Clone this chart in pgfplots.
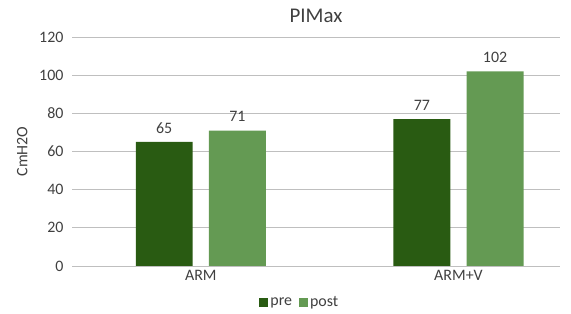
\documentclass[border=0pt]{standalone}
\usepackage{pgfplots}
\pgfplotsset{compat=1.18}
\usepackage{fontspec}
\setmainfont{Carlito}
\definecolor{pre}{HTML}{295B12}
\definecolor{post}{HTML}{649A53}
\definecolor{txt}{HTML}{404040}
\definecolor{grid}{HTML}{D9D9D9}
\begin{document}
\begin{tikzpicture}
\useasboundingbox (0,0) rectangle (571bp,314bp);
\begin{axis}[
  at={(72bp,48bp)}, anchor=south west,
  scale only axis, width=488bp, height=229bp,
  ybar,
  xmin=-0.5, xmax=1.394, ymin=0, ymax=120,
  xtick={0,1}, xticklabels={ARM,ARM+V},
  ytick={0,20,...,120},
  xmajorgrids=false, ymajorgrids, grid style={grid, line width=0.8pt},
  separate axis lines,
  axis line style={draw=none},
  major tick length=0pt,
  tick label style={font=\fontsize{16}{18}\selectfont, text=txt},
  /pgf/number format/assume math mode=true,
  yticklabel style={xshift=-5bp},
  xticklabel style={yshift=-1bp},
  ylabel={CmH2O}, ylabel style={font=\fontsize{16}{18}\selectfont, text=txt, yshift=5bp},
  title={PIMax}, title style={font=\fontsize{21}{23}\selectfont, text=txt, yshift=5bp},
  bar width=0.221,
  nodes near coords, nodes near coords style={font=\fontsize{16}{18}\selectfont, text=txt, yshift=5bp},
  legend style={at={(0.467,-0.115)}, anchor=north, draw=none, legend columns=2, font=\fontsize{16}{18}\selectfont, text=txt, /tikz/every even column/.append style={column sep=5bp}},
  legend image code/.code={\fill[#1] (0bp,-4.5bp) rectangle (9bp,4.5bp);},
]
\addplot[fill=pre, draw=none, bar shift=-0.142] coordinates {(0,65) (1,77)};
\addlegendentry{pre}
\addplot[fill=post, draw=none, bar shift=0.142] coordinates {(0,71) (1,102)};
\addlegendentry{post}
\end{axis}
\end{tikzpicture}
\end{document}
